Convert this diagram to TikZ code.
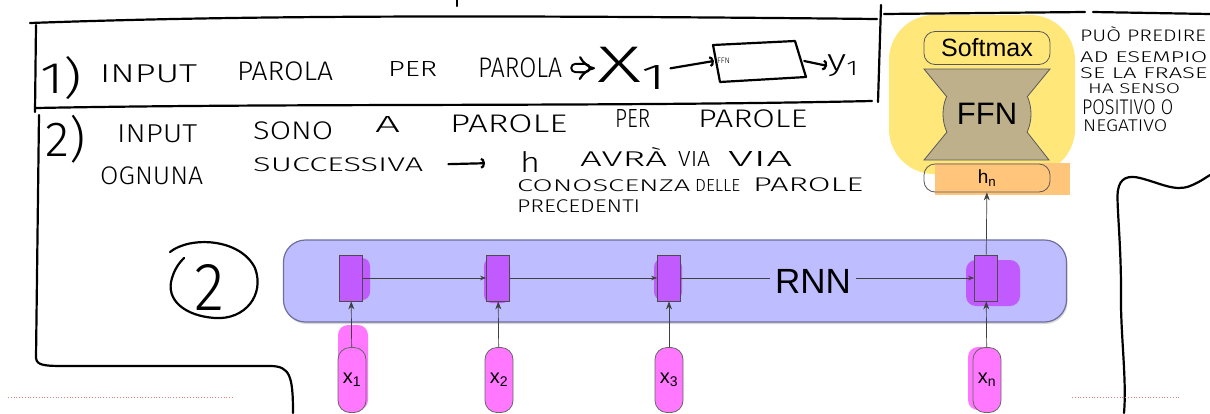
\documentclass[tikz,border=0pt]{standalone}
\usepackage{fontspec}
\usepackage{graphicx}
\setmainfont{Liberation Sans}
\newfontfamily\hwfont{Fira Sans Light}
\usetikzlibrary{arrows.meta,positioning,shadows}

\definecolor{rnnblue}{HTML}{BDBDFF}
\definecolor{rnnedge}{HTML}{6E6E9E}
\definecolor{cellpurple}{HTML}{C15BFF}
\definecolor{tokpink}{HTML}{FF78FF}
\definecolor{hiyellow}{HTML}{FFE77A}
\definecolor{ffntan}{HTML}{BDB08A}
\definecolor{hiorange}{HTML}{FFC57A}
\definecolor{slidered}{HTML}{D98080}

% handwritten word, squeezed into the box it covers on the slide
\newcommand{\hw}[3]{\resizebox*{#1pt}{#2pt}{\hwfont #3}}

\begin{document}
\begin{tikzpicture}[
  x=1pt, y=-1pt,
  >={Stealth[length=8pt,width=6pt]},
  pen/.style={line width=2.2pt, line cap=round, line join=round},
  ink/.style={inner sep=0pt, anchor=south west},
  scrawl/.style={pen, -{Arc Barb[length=4pt,width=11pt]}},
  cell/.style={draw=black!70, line width=0.8pt, fill=cellpurple,
    minimum width=23pt, minimum height=46pt, inner sep=0pt},
  token/.style={draw=black!60, line width=0.8pt, fill=tokpink,
    rounded corners=12pt, minimum width=28pt, minimum height=65pt,
    inner sep=0pt, font=\fontsize{20}{22}\selectfont},
  pill/.style={draw=black!65, line width=0.8pt, rounded corners=11pt,
    minimum width=126pt, inner sep=0pt},
  flow/.style={->, draw=black!75, line width=0.7pt},
  step flow/.style={flow, -{Stealth[length=6pt,width=4.5pt]}}
]
  \useasboundingbox (0,0) rectangle (1210,413);
  \fill[white] (0,0) rectangle (1210,413);

  % highlighter marks behind the network
  \fill[hiyellow, rounded corners=45pt] (889,15) rectangle (1075,174);
  \fill[hiorange] (935,163) rectangle (1070,195);

  % hand-drawn frames
  \draw[pen] (457,0) -- (457,6);
  \draw[pen] (30,23) .. controls (200,17) and (400,14) .. (877,19);
  \draw[pen] (884,14) -- (1085,12);
  \draw[pen] (1093,12) -- (1210,14);
  \draw[pen] (36,25) -- (35,112);
  \draw[pen] (36,108) .. controls (300,103) and (600,107) .. (872,101);
  \draw[pen] (881,5) -- (878,102);
  \draw[pen] (39,115) -- (36,358) .. controls (37,366) and (45,366) .. (70,366)
    -- (270,366) .. controls (290,366) and (293,376) .. (293,413);
  \draw[pen] (1124,413) .. controls (1127,380) and (1120,330) .. (1121,290)
    .. controls (1121,240) and (1116,200) .. (1118,190)
    .. controls (1120,178) and (1128,175) .. (1140,178)
    .. controls (1160,183) and (1175,192) .. (1190,186)
    .. controls (1200,182) and (1205,178) .. (1210,175);
  \draw[slidered, dotted, line width=0.8pt] (8,397) -- (233,397);
  \draw[slidered, dotted, line width=0.8pt] (1072,397) -- (1180,397);

  % note 1
  \node[ink] (one) at (40,100) {\hw{42}{43}{1)}};
  \node[ink] (r1a) at (100,83) {\hw{97}{18}{INPUT}};
  \node[ink] (r1b) at (237,81) {\hw{96}{19}{PAROLA}};
  \node[ink] (r1c) at (388,77) {\hw{49}{15}{PER}};
  \node[ink] (r1d) at (478,78) {\hw{84}{20}{PAROLA}};
  \node[ink] (xone) at (597,90) {\hw{73}{43}{X\textsubscript{1}}};
  \node[inner sep=0pt, minimum width=90pt, minimum height=38pt,
    text width=84pt, align=left] (ffnsk) at (759,61)
    {\hwfont\fontsize{8}{8}\selectfont FFN};
  \node[ink] (yone) at (827,77) {\hw{33}{22}{y\textsubscript{1}}};
  \draw[pen] (713,45) -- (795,41) -- (806,77) -- (720,82) -- cycle;
  \draw[pen, double, double distance=6pt, -{Implies[length=5pt]},
    shorten <=13pt, shorten >=2pt] (r1d.east) -- (xone.west);
  \draw[scrawl] (xone.east) -- (ffnsk.west);
  \draw[scrawl] (ffnsk.east) -- (yone.west);

  % note 2
  \node[ink] (two) at (45,163) {\hw{40}{48}{2)}};
  \node[ink] (r2a) at (117,143) {\hw{80}{18}{INPUT}};
  \node[ink] (r2b) at (253,140) {\hw{80}{18}{SONO}};
  \node[ink] (r2c) at (375,133) {\hw{25}{16}{A}};
  \node[ink] (r2d) at (450,133) {\hw{117}{18}{PAROLE}};
  \node[ink] (r2e) at (615,128) {\hw{35}{18}{PER}};
  \node[ink] (r2f) at (698,128) {\hw{109}{18}{PAROLE}};
  \node[ink] (r2g) at (100,185) {\hw{103}{18}{OGNUNA}};
  \node[ink] (r2h) at (253,172) {\hw{170}{14}{SUCCESSIVA}};
  \node[ink] (r2i) at (520,173) {\hw{20}{21}{h}};
  \node[ink] (r2j) at (580,167) {\hw{87}{19}{AVRÀ}};
  \node[ink] (r2k) at (678,167) {\hw{32}{15}{VIA}};
  \node[ink] (r2l) at (728,167) {\hw{64}{15}{VIA}};
  \node[ink] (r2m) at (517,192) {\hw{173}{12}{CONOSCENZA}};
  \node[ink] (r2n) at (695,192) {\hw{45}{12}{DELLE}};
  \node[ink] (r2o) at (753,192) {\hw{110}{14}{PAROLE}};
  \node[ink] (r2p) at (517,213) {\hw{123}{13}{PRECEDENTI}};
  \draw[scrawl, shorten <=25pt, shorten >=35pt] (r2h.east) -- (r2i.west);

  % side note
  \node[ink] (n1) at (1080,42) {\hw{126}{15}{PUÒ PREDIRE}};
  \node[ink] (n2) at (1080,63) {\hw{127}{11}{AD ESEMPIO}};
  \node[ink] (n3) at (1080,79) {\hw{127}{11}{SE LA FRASE}};
  \node[ink] (n4) at (1088,94) {\hw{92}{10}{HA SENSO}};
  \node[ink] (n5) at (1082,115) {\hw{91}{15}{POSITIVO O}};
  \node[ink] (n6) at (1083,132) {\hw{84}{12}{NEGATIVO}};

  % circled 2
  \node[inner sep=0pt] (circled) at (210,287) {\hw{30}{46}{2}};
  \draw[pen] (170,252) .. controls (190,236) and (240,238) .. (255,268)
    .. controls (265,295) and (245,320) .. (215,318)
    .. controls (185,316) and (165,300) .. (172,278)
    .. controls (175,268) and (180,262) .. (184,258);

  % the recurrent network
  \node[draw=rnnedge, line width=1.2pt, fill=rnnblue, rounded corners=22pt,
    minimum width=783pt, minimum height=82pt,
    drop shadow={opacity=0.3, shadow xshift=1pt, shadow yshift=-2pt}]
    (rnn) at (675,281) {};

  \fill[cellpurple, rounded corners=8pt] (343,258) rectangle (370,300);
  \fill[cellpurple, rounded corners=8pt] (484,258) rectangle (510,303);
  \fill[cellpurple, rounded corners=8pt] (654,259) rectangle (682,300);
  \fill[cellpurple, rounded corners=10pt] (966,260) rectangle (1020,306);
  \fill[tokpink, rounded corners=10pt] (338,325) rectangle (368,410);
  \fill[tokpink, rounded corners=10pt] (968,347) rectangle (992,410);

  \node[cell] (c1) at (351,278) {};
  \node[cell] (c2) at (498,278) {};
  \node[cell] (c3) at (669,278) {};
  \node[cell] (c4) at (986,278) {};

  \node[token] (t1) at (352,380) {x\textsubscript{1}};
  \node[token] (t2) at (499,380) {x\textsubscript{2}};
  \node[token] (t3) at (669,380) {x\textsubscript{3}};
  \node[token] (tn) at (987,380) {x\textsubscript{n}};

  \node[font=\fontsize{35}{36}\selectfont, inner sep=5pt] (rnnlabel)
    at (813,281) {RNN};

  \draw[step flow] (c1) -- (c2);
  \draw[step flow] (c2) -- (c3);
  \draw[flow, -] (c3.east) -- (c3.east -| rnnlabel.west);
  \draw[step flow] (rnnlabel.east |- c4.west) -- (c4.west);

  \draw[flow] (t1) -- (c1);
  \draw[flow] (t2) -- (c2);
  \draw[flow] (t3) -- (c3);
  \draw[flow] (tn) -- (c4);

  % classifier head
  \node[pill, minimum height=28pt, font=\fontsize{19}{20}\selectfont]
    (hn) at (987,178) {h\textsubscript{n}};
  \draw[flow] (c4) -- (hn);

  \node[circle, draw=black!65, line width=0.8pt, fill=ffntan,
    minimum size=88pt, inner sep=0pt, font=\fontsize{31}{32}\selectfont]
    (ffn) at (987,114) {FFN};
  \fill[ffntan] (924,69) -- (1050,69) -- (1027,97) -- (947,97) -- cycle;
  \draw[black!65, line width=0.8pt] (947,97) -- (924,69) -- (1050,69) -- (1027,97);
  \fill[ffntan] (947,132) -- (1027,132) -- (1049,160) -- (924,160) -- cycle;
  \draw[black!65, line width=0.8pt] (947,132) -- (924,160) -- (1049,160) -- (1027,132);

  \node[pill, minimum height=33pt, font=\fontsize{25}{26}\selectfont]
    (softmax) at (987,48) {Softmax};
\end{tikzpicture}
\end{document}
